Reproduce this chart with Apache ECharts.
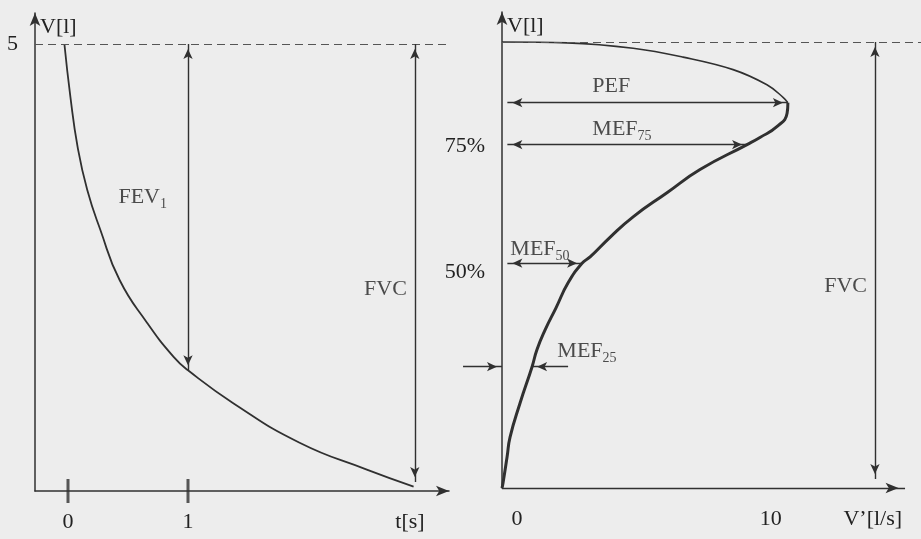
<!DOCTYPE html>
<html>
<head>
<meta charset="utf-8">
<title>Spirometria</title>
<script src="https://cdn.jsdelivr.net/npm/echarts@6/dist/echarts.min.js"></script>
<style>
  html, body { margin: 0; padding: 0; background: #ededed; }
  #chart { width: 921px; height: 539px; }
</style>
</head>
<body>
<div id="chart"></div>
<script>
"use strict";

// krzywa objętość-czas
var timeSec = [-0.03, 0.02, 0.08, 0.16, 0.27, 0.43, 0.66, 0.88, 1.0, 1.38, 1.93, 2.49, 2.88];
var volumeTime = [5.0, 4.41, 3.85, 3.37, 2.92, 2.36, 1.88, 1.50, 1.35, 0.98, 0.54, 0.24, 0.05];

// krzywa przepływ-objętość
var flowLs = [0, 2.42, 4.88, 6.74, 8.60, 9.86, 10.46, 10.64, 10.61, 10.23, 9.60, 9.12, 7.37, 6.14,
    4.88, 4.02, 3.28, 2.98, 2.46, 2.01, 1.60, 1.30, 1.12, 0.67, 0.30, 0.19, 0.04, 0];
var volumeFlow = [5.0, 4.99, 4.93, 4.83, 4.69, 4.52, 4.38, 4.32, 4.20, 4.05, 3.93, 3.85, 3.57, 3.31,
    3.04, 2.81, 2.59, 2.52, 2.30, 2.02, 1.77, 1.55, 1.36, 0.95, 0.57, 0.35, 0.06, 0];
var pefIndex = 7;

var fvc = 5;
var fvcEnd = 0.1;
var fev1Time = 1;
var fev1Volume = 1.35;
var fvcTime = 2.89;
var fvcFlow = 13.88;
var flowAxisEnd = 15;

var mefNames = ['PEF', 'MEF75', 'MEF50', 'MEF25'];
var mefVolume = [4.32, 3.85, 2.52, 1.36];
var mefFlow = [10.64, 9.12, 2.98, 1.12];
var mefStart = 0.2;
var mef25Ends = [-1.45, 2.46];

var timeTicks = [0, 1];
var timeLabelValues = [0, 1, 2.85];
var timeLabelTexts = ['0', '1', 't[s]'];
var flowLabelValues = [0, 10, 13.8];
var flowLabelTexts = ['0', '10', 'V’[l/s]'];
var volumeLabelValues = [5];
var volumeLabelTexts = ['5'];
var percentValues = [3.83, 2.42];
var percentTexts = ['75%', '50%'];

var INK = '#303030';
var TEXT = '#222';
var FONT = 'Liberation Serif';

function zip(xs, ys) {
    return xs.map(function (x, i) { return [x, ys[i]]; });
}
function lookup(values, texts) {
    return function (v) {
        var i = values.indexOf(v);
        return i < 0 ? '' : texts[i];
    };
}
function richName(name) {
    var m = name.match(/^([A-Z]+)(\d*)$/);
    return m[2] ? '{m|' + m[1] + '}{s|' + m[2] + '}' : name;
}
function arrowEnd(coord, size) {
    size = size || [7, 10];
    return {coord: coord, symbol: 'arrow', symbolSize: size, symbolOffset: [0, size[1] / 2]};
}
function plainEnd(coord) {
    return {coord: coord, symbol: 'none'};
}
function dashed(from, to) {
    return [
        {coord: from, symbol: 'none', lineStyle: {type: [8, 5], width: 1, color: '#555'}},
        {coord: to, symbol: 'none'}
    ];
}

var textStyle = {color: TEXT, fontFamily: FONT, fontSize: 22};
var rich = {
    m: {color: TEXT, fontFamily: FONT, fontSize: 22},
    s: {color: TEXT, fontFamily: FONT, fontSize: 14, padding: [14, 0, 0, 0]},
    z: {color: TEXT, fontFamily: FONT, fontSize: 22, padding: [0, 0, 0, 30]}
};
var markStyle = {
    silent: true,
    symbol: ['none', 'none'],
    label: {show: false},
    lineStyle: {color: INK, width: 1.4, type: 'solid'}
};
function markLine(data) {
    return Object.assign({data: data}, markStyle);
}

var chart = echarts.init(document.getElementById('chart'));
chart.setOption({
    animation: false,
    backgroundColor: '#ededed',
    grid: [
        {left: 35, top: 13, width: 414, height: 478, outerBoundsMode: 'none'},
        {left: 460, top: 12, width: 461, height: 476, outerBoundsMode: 'none'}
    ],
    xAxis: [{
        gridIndex: 0,
        type: 'value',
        min: -0.275,
        max: 3.175,
        splitLine: {show: false},
        axisTick: {show: false},
        axisLine: {
            symbol: ['none', 'arrow'],
            symbolSize: [8, 13],
            lineStyle: {color: INK, width: 1.5}
        },
        axisLabel: {
            customValues: timeLabelValues,
            formatter: lookup(timeLabelValues, timeLabelTexts),
            margin: 20,
            color: TEXT, fontFamily: FONT, fontSize: 22
        }
    }, {
        gridIndex: 1,
        type: 'value',
        min: -1.563,
        max: 15.594,
        splitLine: {show: false},
        axisTick: {show: false},
        axisLine: {show: false},
        axisLabel: {
            customValues: flowLabelValues,
            formatter: function (v) {
                var t = lookup(flowLabelValues, flowLabelTexts)(v);
                return v === 0 ? '{z|' + t + '}' : t;
            },
            rich: rich,
            margin: 20,
            color: TEXT, fontFamily: FONT, fontSize: 22
        }
    }],
    yAxis: [{
        gridIndex: 0,
        type: 'value',
        min: 0,
        max: 5.347,
        name: 'V[l]',
        nameLocation: 'end',
        nameGap: -14,
        nameTextStyle: {color: TEXT, fontFamily: FONT, fontSize: 22, align: 'left', verticalAlign: 'middle', padding: [0, 0, 0, 5]},
        splitLine: {show: false},
        axisTick: {show: false},
        axisLine: {
            onZero: false,
            symbol: ['none', 'arrow'],
            symbolSize: [8, 13],
            lineStyle: {color: INK, width: 1.5}
        },
        axisLabel: {
            customValues: volumeLabelValues,
            formatter: lookup(volumeLabelValues, volumeLabelTexts),
            margin: 17,
            color: TEXT, fontFamily: FONT, fontSize: 22
        }
    }, {
        gridIndex: 1,
        type: 'value',
        min: 0,
        max: 5.336,
        name: 'V[l]',
        nameLocation: 'end',
        nameGap: -14,
        nameTextStyle: {color: TEXT, fontFamily: FONT, fontSize: 22, align: 'left', verticalAlign: 'middle', padding: [0, 0, 0, 5]},
        splitLine: {show: false},
        axisTick: {show: false},
        axisLine: {
            onZero: true,
            symbol: ['none', 'arrow'],
            symbolSize: [8, 13],
            lineStyle: {color: INK, width: 1.5}
        },
        axisLabel: {
            customValues: percentValues,
            formatter: lookup(percentValues, percentTexts),
            margin: -25,
            color: TEXT, fontFamily: FONT, fontSize: 22
        }
    }],
    series: [{
        // V(t)
        type: 'line',
        xAxisIndex: 0,
        yAxisIndex: 0,
        data: zip(timeSec, volumeTime),
        smooth: 0.5,
        symbol: 'none',
        lineStyle: {color: INK, width: 1.8},
        markLine: markLine([
            dashed([-0.275, fvc], [3.15, fvc]),
            [arrowEnd([fev1Time, fvc]), arrowEnd([fev1Time, fev1Volume])],
            [arrowEnd([fvcTime, fvc]), arrowEnd([fvcTime, fvcEnd])]
        ])
    }, {
        type: 'scatter',
        xAxisIndex: 0,
        yAxisIndex: 0,
        silent: true,
        symbol: 'rect',
        symbolSize: [3, 24],
        itemStyle: {color: INK},
        data: timeTicks.map(function (t) { return [t, 0]; })
    }, {
        type: 'scatter',
        xAxisIndex: 0,
        yAxisIndex: 0,
        silent: true,
        symbolSize: 0,
        itemStyle: {color: 'transparent'},
        label: {show: true, textStyle: textStyle, rich: rich},
        data: [{
            value: [fev1Time, (fvc + fev1Volume) / 2],
            label: {formatter: '{m|FEV}{s|1}', position: 'left', distance: 21, offset: [0, -10]}
        }, {
            value: [fvcTime, (fvc + fvcEnd) / 2],
            label: {formatter: 'FVC', position: 'left', distance: 8, offset: [0, 26]}
        }]
    }, {
        // V'(V), część wznosząca
        type: 'line',
        xAxisIndex: 1,
        yAxisIndex: 1,
        data: zip(flowLs, volumeFlow).slice(0, pefIndex + 1),
        smooth: 0.4,
        symbol: 'none',
        lineStyle: {color: INK, width: 1.6},
        markLine: markLine([
            dashed([0, fvc], [15.594, fvc]),
            [plainEnd([0, 0]), arrowEnd([flowAxisEnd, 0], [8, 13])],
            [arrowEnd([mefStart, mefVolume[0]]), arrowEnd([mefFlow[0], mefVolume[0]])],
            [arrowEnd([mefStart, mefVolume[1]]), arrowEnd([mefFlow[1], mefVolume[1]])],
            [arrowEnd([mefStart, mefVolume[2]]), arrowEnd([mefFlow[2], mefVolume[2]])],
            [plainEnd([mef25Ends[0], mefVolume[3]]), arrowEnd([0, mefVolume[3]])],
            [plainEnd([mef25Ends[1], mefVolume[3]]), arrowEnd([mefFlow[3], mefVolume[3]])],
            [arrowEnd([fvcFlow, fvc]), arrowEnd([fvcFlow, fvcEnd])]
        ])
    }, {
        // V'(V), część opadająca
        type: 'line',
        xAxisIndex: 1,
        yAxisIndex: 1,
        data: zip(flowLs, volumeFlow).slice(pefIndex),
        smooth: 0.5,
        symbol: 'none',
        lineStyle: {color: INK, width: 3}
    }, {
        type: 'scatter',
        xAxisIndex: 1,
        yAxisIndex: 1,
        silent: true,
        symbolSize: 0,
        itemStyle: {color: 'transparent'},
        label: {show: true, textStyle: textStyle, rich: rich},
        data: [
            {value: [mefStart, mefVolume[0]], label: {formatter: richName(mefNames[0]), position: 'right', distance: 85, offset: [0, -16]}},
            {value: [mefStart, mefVolume[1]], label: {formatter: richName(mefNames[1]), position: 'right', distance: 85, offset: [0, -15]}},
            {value: [mefStart, mefVolume[2]], label: {formatter: richName(mefNames[2]), position: 'right', distance: 3, offset: [0, -14]}},
            {value: [mefStart, mefVolume[3]], label: {formatter: richName(mefNames[3]), position: 'right', distance: 50, offset: [0, -15]}},
            {value: [fvcFlow, (fvc + fvcEnd) / 2], label: {formatter: 'FVC', position: 'left', distance: 8, offset: [0, 26]}}
        ]
    }]
});
</script>
</body>
</html>
